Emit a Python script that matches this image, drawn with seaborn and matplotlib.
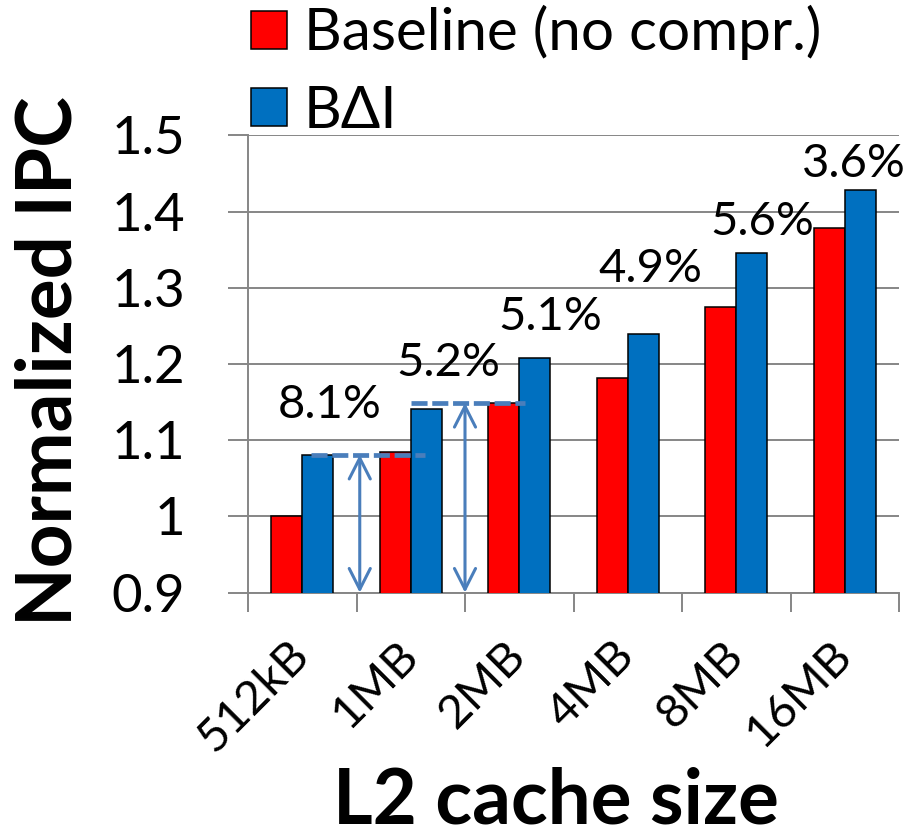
import matplotlib
matplotlib.use("Agg")
import matplotlib.pyplot as plt
import seaborn as sns
import pandas as pd
import numpy as np

# ---- data -------------------------------------------------------------
cache_sizes = ["512kB", "1MB", "2MB", "4MB", "8MB", "16MB"]
baseline_ipc = [1.000, 1.085, 1.149, 1.182, 1.275, 1.378]
bdi_ipc = [1.081, 1.141, 1.208, 1.240, 1.346, 1.428]
bdi_gain_pct = [8.1, 5.2, 5.1, 4.9, 5.6, 3.6]
series_names = ["Baseline (no compr.)", "BΔI"]
y_ticks = [0.9, 1.0, 1.1, 1.2, 1.3, 1.4, 1.5]
y_tick_labels = ["0.9", "1", "1.1", "1.2", "1.3", "1.4", "1.5"]

df = pd.DataFrame({
    "size": cache_sizes * 2,
    "ipc": baseline_ipc + bdi_ipc,
    "config": [series_names[0]] * len(cache_sizes) + [series_names[1]] * len(cache_sizes),
})

# ---- style ------------------------------------------------------------
sns.set_theme(style="white")
plt.rcParams["font.family"] = ["Lato", "DejaVu Sans"]
plt.rcParams["text.color"] = "black"
plt.rcParams["xtick.labelcolor"] = "black"
plt.rcParams["ytick.labelcolor"] = "black"

GRID = "#868686"
ARROW = "#4A7EBB"

fig = plt.figure(figsize=(9.11, 8.36), dpi=100)
ax = fig.add_axes([248 / 911, 1 - 592.7 / 836, (899 - 248) / 911, (592.7 - 135.3) / 836])

sns.barplot(
    data=df, x="size", y="ipc", hue="config",
    order=cache_sizes, hue_order=series_names,
    palette=["#FF0000", "#0070C0"], saturation=1,
    width=0.572, edgecolor="black", linewidth=1.1,
    errorbar=None, ax=ax, zorder=3,
)

ax.set_xlim(-0.5, len(cache_sizes) - 0.5)
ax.set_ylim(0.9, 1.5)
ax.set_axisbelow(True)

# y axis: gridlines with outward stubs
ax.set_yticks(y_ticks, y_tick_labels)
ax.yaxis.grid(True, color=GRID, lw=1.4)
ax.tick_params(axis="y", length=14.4, width=1.4, color=GRID, pad=31,
               labelsize=38, labelcolor="black", left=True)

# x axis: boundary ticks between categories, rotated labels
ax.set_xticks(range(len(cache_sizes)), cache_sizes)
ax.set_xticks(np.arange(-0.5, len(cache_sizes), 1.0), minor=True)
ax.tick_params(axis="x", which="minor", length=13.7, width=1.4, color=GRID,
               direction="out", bottom=True)
ax.tick_params(axis="x", which="major", length=0, pad=40, labelsize=34,
               labelcolor="black")
for lbl in ax.get_xticklabels():
    lbl.set_rotation(45)
    lbl.set_ha("right")
    lbl.set_va("center")
    lbl.set_rotation_mode("anchor")

for side in ("top", "right"):
    ax.spines[side].set_visible(False)
for side in ("left", "bottom"):
    ax.spines[side].set_color(GRID)
    ax.spines[side].set_linewidth(1.4)

ax.set_xlabel("")
ax.set_ylabel("")
fig.text(556 / 911, 1 - 824 / 836, "L2 cache size", ha="center", va="baseline",
         fontsize=55, fontweight="bold", color="black")
fig.text(72 / 911, 1 - 361 / 836, "Normalized IPC", ha="center", va="baseline",
         rotation=90, rotation_mode="anchor", fontsize=55, fontweight="bold",
         color="black")

# ---- speed-up labels above the BΔI bars --------------------------------
label_nudge = [(12, 37), (22, 33), (16, 28), (7, 52), (11, 18), (-6, 13)]
bdi_bars = ax.containers[1]
for bar, val, pct, (dx, dy) in zip(bdi_bars, bdi_ipc, bdi_gain_pct, label_nudge):
    cx = bar.get_x() + bar.get_width() / 2
    ax.annotate(f"{pct:.1f}%", xy=(cx, val), xytext=(dx, dy),
                textcoords="offset pixels", ha="center", va="baseline",
                fontsize=34, color="black", zorder=5)

# ---- "same performance" guides -----------------------------------------
dash = [(0, (3.4, 1.0))]
ax.hlines(bdi_ipc[0], 0.085, 1.13, colors=ARROW, lw=3.4, linestyles=dash, zorder=4)
ax.hlines(baseline_ipc[2], 1.0, 2.05, colors=ARROW, lw=3.4, linestyles=dash, zorder=4)
for xpos, top in ((0.53, bdi_ipc[0]), (1.5, baseline_ipc[2])):
    ax.annotate("", xy=(xpos, top), xytext=(xpos, 0.9),
                arrowprops=dict(arrowstyle="<->,head_length=0.75,head_width=0.38",
                                color=ARROW, lw=2.2, mutation_scale=20,
                                shrinkA=0, shrinkB=0),
                zorder=4)

# ---- legend --------------------------------------------------------------
ax.legend(loc="upper left", bbox_to_anchor=(251 / 911, 1 - 5 / 836),
          bbox_transform=fig.transFigure, frameon=False, fontsize=42,
          handlelength=0.62, handleheight=0.62, handletextpad=0.28,
          labelspacing=0.42, borderpad=0, borderaxespad=0)

fig.savefig("out.png", dpi=100)
